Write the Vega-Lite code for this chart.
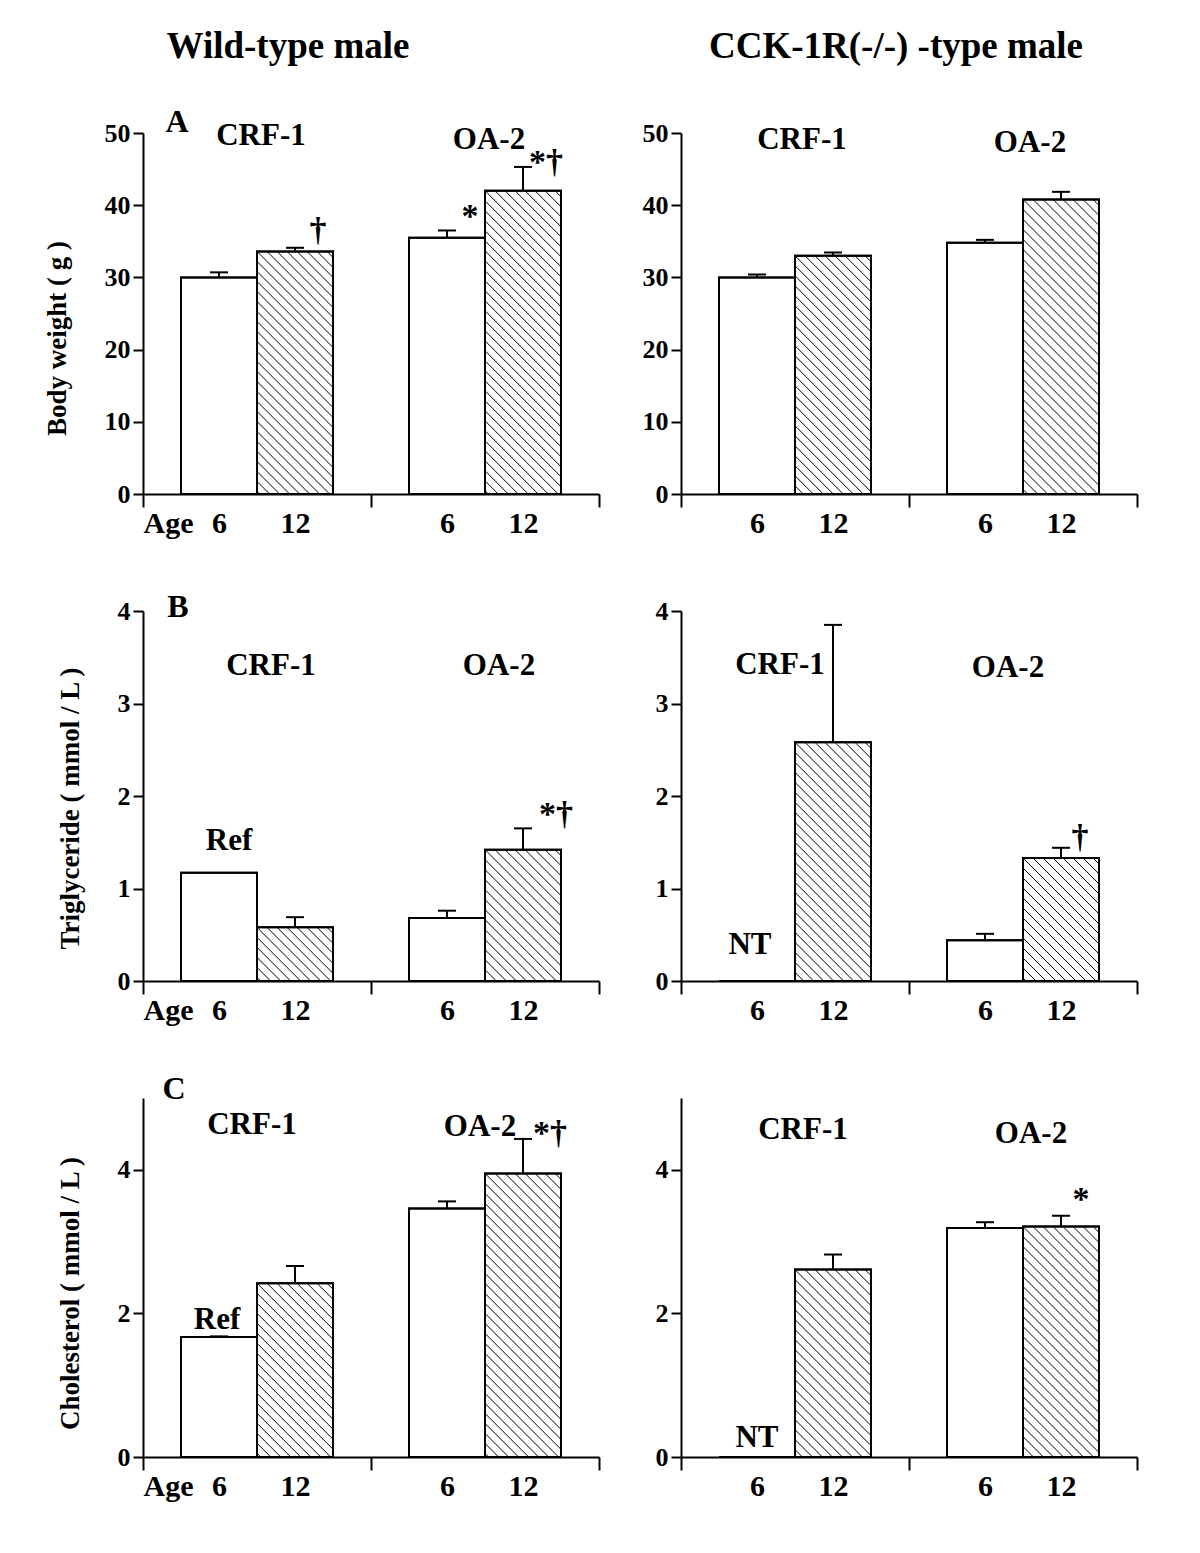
{
"$schema": "https://vega.github.io/schema/vega-lite/v6.json",
"autosize": "none",
"padding": {"left": 143, "top": 133, "right": 1057, "bottom": 1420},
"background": "white",
"datasets": {
"bars": [
{"panel":"A_wt","group":"CRF-1","age":6,"slot":"c6","value":30.0,"hi":30.7},
{"panel":"A_wt","group":"CRF-1","age":12,"slot":"c12","value":33.6,"hi":34.1},
{"panel":"A_wt","group":"OA-2","age":6,"slot":"o6","value":35.5,"hi":36.5},
{"panel":"A_wt","group":"OA-2","age":12,"slot":"o12","value":42.0,"hi":45.3},
{"panel":"A_ko","group":"CRF-1","age":6,"slot":"c6","value":30.0,"hi":30.4},
{"panel":"A_ko","group":"CRF-1","age":12,"slot":"c12","value":33.0,"hi":33.45},
{"panel":"A_ko","group":"OA-2","age":6,"slot":"o6","value":34.8,"hi":35.2},
{"panel":"A_ko","group":"OA-2","age":12,"slot":"o12","value":40.8,"hi":41.85},
{"panel":"B_wt","group":"CRF-1","age":6,"slot":"c6","value":1.17,"hi":1.17},
{"panel":"B_wt","group":"CRF-1","age":12,"slot":"c12","value":0.58,"hi":0.69},
{"panel":"B_wt","group":"OA-2","age":6,"slot":"o6","value":0.68,"hi":0.76},
{"panel":"B_wt","group":"OA-2","age":12,"slot":"o12","value":1.42,"hi":1.65},
{"panel":"B_ko","group":"CRF-1","age":6,"slot":"c6","value":0,"hi":0},
{"panel":"B_ko","group":"CRF-1","age":12,"slot":"c12","value":2.58,"hi":3.85},
{"panel":"B_ko","group":"OA-2","age":6,"slot":"o6","value":0.44,"hi":0.51},
{"panel":"B_ko","group":"OA-2","age":12,"slot":"o12","value":1.33,"hi":1.44},
{"panel":"C_wt","group":"CRF-1","age":6,"slot":"c6","value":1.67,"hi":1.68},
{"panel":"C_wt","group":"CRF-1","age":12,"slot":"c12","value":2.42,"hi":2.66},
{"panel":"C_wt","group":"OA-2","age":6,"slot":"o6","value":3.46,"hi":3.56},
{"panel":"C_wt","group":"OA-2","age":12,"slot":"o12","value":3.95,"hi":4.43},
{"panel":"C_ko","group":"CRF-1","age":6,"slot":"c6","value":0,"hi":0},
{"panel":"C_ko","group":"CRF-1","age":12,"slot":"c12","value":2.61,"hi":2.82},
{"panel":"C_ko","group":"OA-2","age":6,"slot":"o6","value":3.19,"hi":3.27},
{"panel":"C_ko","group":"OA-2","age":12,"slot":"o12","value":3.21,"hi":3.36}
],
"labels": [
{"panel":"A_wt","kind":"header","slot":"c12","value":60.4,"text":"Wild-type male"},
{"panel":"A_ko","kind":"header","slot":"gap","value":60.4,"text":"CCK-1R(-/-) -type male"},
{"panel":"A_wt","kind":"group","slot":"c12","value":49.6,"text":"CRF-1"},
{"panel":"A_wt","kind":"group","slot":"o12","value":49.0,"text":"OA-2"},
{"panel":"A_wt","kind":"sig","slot":"c12","value":36.4,"text":"†"},
{"panel":"A_wt","kind":"sig","slot":"o6","value":38.4,"text":"*"},
{"panel":"A_wt","kind":"sig","slot":"o12","value":45.9,"text":"*†"},
{"panel":"A_wt","kind":"letter","slot":"e0","value":51.5,"text":"A"},
{"panel":"A_ko","kind":"group","slot":"c12","value":49.0,"text":"CRF-1"},
{"panel":"A_ko","kind":"group","slot":"o12","value":48.6,"text":"OA-2"},
{"panel":"B_wt","kind":"group","slot":"c12","value":3.41,"text":"CRF-1"},
{"panel":"B_wt","kind":"group","slot":"o12","value":3.41,"text":"OA-2"},
{"panel":"B_wt","kind":"note","slot":"c6","value":1.51,"text":"Ref"},
{"panel":"B_wt","kind":"sig","slot":"o12","value":1.79,"text":"*†"},
{"panel":"B_wt","kind":"letter","slot":"e0","value":4.04,"text":"B"},
{"panel":"B_ko","kind":"group","slot":"c12","value":3.42,"text":"CRF-1"},
{"panel":"B_ko","kind":"group","slot":"o12","value":3.38,"text":"OA-2"},
{"panel":"B_ko","kind":"note","slot":"c6","value":0.39,"text":"NT"},
{"panel":"B_ko","kind":"sig","slot":"o12","value":1.55,"text":"†"},
{"panel":"C_wt","kind":"group","slot":"c12","value":4.63,"text":"CRF-1"},
{"panel":"C_wt","kind":"group","slot":"o12","value":4.59,"text":"OA-2"},
{"panel":"C_wt","kind":"note","slot":"c6","value":1.91,"text":"Ref"},
{"panel":"C_wt","kind":"sig","slot":"o12","value":4.5,"text":"*†"},
{"panel":"C_wt","kind":"letter","slot":"e0","value":5.12,"text":"C"},
{"panel":"C_ko","kind":"group","slot":"c12","value":4.55,"text":"CRF-1"},
{"panel":"C_ko","kind":"group","slot":"o12","value":4.5,"text":"OA-2"},
{"panel":"C_ko","kind":"note","slot":"c6","value":0.26,"text":"NT"},
{"panel":"C_ko","kind":"sig","slot":"o12","value":3.58,"text":"*"}
]
},
"columns": 2,
"spacing": {"row": 117, "column": 82},
"bounds": "flush",
"concat": [
{"width": 456, "height": 361,
 "layer": [
  {"data": {"name": "bars"}, "transform": [{"filter": "datum.panel=='A_wt'"}],
   "mark": {"type": "bar", "width": 76, "fill": "white", "stroke": "black", "strokeWidth": 2},
   "encoding": {
    "x": {"field": "slot", "type": "nominal", "title": null, "scale": {"type": "point", "domain": ["e0","c6","c12","gap","o6","o12","e6"], "padding": 0},
          "axis": {"labelAngle": 0, "labelOverlap": false, "labelExpr": "datum.value=='e0' ? 'Age' : (datum.value=='c6'||datum.value=='o6') ? '6' : (datum.value=='c12'||datum.value=='o12') ? '12' : ''",
                   "labelAlign": {"condition": {"test": "datum.value=='e0'", "value": "left"}, "value": "center"},
                   "tickOpacity": {"condition": {"test": "datum.value=='e0'||datum.value=='gap'||datum.value=='e6'", "value": 1}, "value": 0}}},
    "y": {"field": "value", "type": "quantitative", "title": "Body weight ( g )", "scale": {"domain": [0, 50], "nice": false}, "axis": {"values": [0,10,20,30,40,50], "format": "d", "titleY": 205}}}},
  {"data": {"name": "bars"}, "transform": [{"filter": "datum.panel=='A_wt' && datum.age==12"}],
   "mark": {"type": "point", "shape": "M32,0L38,6M22,0L38,16M12,0L38,26M2,0L38,36M-8,0L38,46M-18,0L38,56M-28,0L38,66M-38,0L38,76M-38,10L38,86M-38,20L38,96M-38,30L38,106M-38,40L38,116M-38,50L38,126M-38,60L38,136M-38,70L38,146M-38,80L38,156M-38,90L38,166M-38,100L38,176M-38,110L38,186M-38,120L38,196M-38,130L38,206M-38,140L38,216M-38,150L38,226M-38,160L38,236M-38,170L38,246M-38,180L38,256M-38,190L38,266M-38,200L38,276M-38,210L38,286M-38,220L38,296M-38,230L38,306M-38,240L38,316M-38,250L38,326M-38,260L38,336M-38,270L38,346M-38,280L38,356M-38,290L38,366M-38,300L38,376M-38,310L32,380M-38,320L22,380M-38,330L12,380M-38,340L2,380M-38,350L-8,380M-38,360L-18,380M-38,370L-28,380", "size": 4, "filled": false, "stroke": "black", "strokeWidth": 1, "opacity": 1, "clip": true},
   "encoding": {"x": {"field": "slot", "type": "nominal", "title": null}, "y": {"field": "value", "type": "quantitative", "title": "Body weight ( g )"}}},
  {"data": {"name": "bars"}, "transform": [{"filter": "datum.panel=='A_wt'"}],
   "mark": {"type": "bar", "width": 76, "fillOpacity": 0, "stroke": "black", "strokeWidth": 2},
   "encoding": {"x": {"field": "slot", "type": "nominal", "title": null}, "y": {"field": "value", "type": "quantitative", "title": "Body weight ( g )"}}},
  {"data": {"name": "bars"}, "transform": [{"filter": "datum.panel=='A_wt'"}],
   "mark": {"type": "rule", "stroke": "black", "strokeWidth": 2},
   "encoding": {"x": {"field": "slot", "type": "nominal", "title": null}, "y": {"field": "value", "type": "quantitative", "title": "Body weight ( g )"}, "y2": {"field": "hi"}}},
  {"data": {"name": "bars"}, "transform": [{"filter": "datum.panel=='A_wt'"}],
   "mark": {"type": "tick", "size": 18, "thickness": 2, "color": "black", "opacity": 1},
   "encoding": {"x": {"field": "slot", "type": "nominal", "title": null}, "y": {"field": "hi", "type": "quantitative", "title": "Body weight ( g )"}}},
  {"data": {"name": "labels"}, "transform": [{"filter": "datum.panel=='A_wt' && datum.kind=='group'"}],
   "mark": {"type": "text", "fontSize": 31, "dx": -34, "baseline": "middle", "align": "center"},
   "encoding": {"x": {"field": "slot", "type": "nominal", "title": null}, "y": {"field": "value", "type": "quantitative", "title": "Body weight ( g )"}, "text": {"field": "text"}}},
  {"data": {"name": "labels"}, "transform": [{"filter": "datum.panel=='A_wt' && datum.kind=='sig'"}],
   "mark": {"type": "text", "fontSize": 34, "dx": 23, "baseline": "middle", "align": "center"},
   "encoding": {"x": {"field": "slot", "type": "nominal", "title": null}, "y": {"field": "value", "type": "quantitative", "title": "Body weight ( g )"}, "text": {"field": "text"}}},
  {"data": {"name": "labels"}, "transform": [{"filter": "datum.panel=='A_wt' && datum.kind=='letter'"}],
   "mark": {"type": "text", "fontSize": 32, "dx": 34, "baseline": "middle", "align": "center"},
   "encoding": {"x": {"field": "slot", "type": "nominal", "title": null}, "y": {"field": "value", "type": "quantitative", "title": "Body weight ( g )"}, "text": {"field": "text"}}},
  {"data": {"name": "labels"}, "transform": [{"filter": "datum.panel=='A_wt' && datum.kind=='header'"}],
   "mark": {"type": "text", "fontSize": 37, "dx": -7, "baseline": "alphabetic", "align": "center"},
   "encoding": {"x": {"field": "slot", "type": "nominal", "title": null}, "y": {"field": "value", "type": "quantitative", "title": "Body weight ( g )"}, "text": {"field": "text"}}}
 ]},
{"width": 456, "height": 361,
 "layer": [
  {"data": {"name": "bars"}, "transform": [{"filter": "datum.panel=='A_ko'"}],
   "mark": {"type": "bar", "width": 76, "fill": "white", "stroke": "black", "strokeWidth": 2},
   "encoding": {
    "x": {"field": "slot", "type": "nominal", "title": null, "scale": {"type": "point", "domain": ["e0","c6","c12","gap","o6","o12","e6"], "padding": 0},
          "axis": {"labelAngle": 0, "labelOverlap": false, "labelExpr": "(datum.value=='c6'||datum.value=='o6') ? '6' : (datum.value=='c12'||datum.value=='o12') ? '12' : ''",
                   "tickOpacity": {"condition": {"test": "datum.value=='e0'||datum.value=='gap'||datum.value=='e6'", "value": 1}, "value": 0}}},
    "y": {"field": "value", "type": "quantitative", "title": null, "scale": {"domain": [0, 50], "nice": false}, "axis": {"values": [0,10,20,30,40,50], "format": "d"}}}},
  {"data": {"name": "bars"}, "transform": [{"filter": "datum.panel=='A_ko' && datum.age==12"}],
   "mark": {"type": "point", "shape": "M32,0L38,6M22,0L38,16M12,0L38,26M2,0L38,36M-8,0L38,46M-18,0L38,56M-28,0L38,66M-38,0L38,76M-38,10L38,86M-38,20L38,96M-38,30L38,106M-38,40L38,116M-38,50L38,126M-38,60L38,136M-38,70L38,146M-38,80L38,156M-38,90L38,166M-38,100L38,176M-38,110L38,186M-38,120L38,196M-38,130L38,206M-38,140L38,216M-38,150L38,226M-38,160L38,236M-38,170L38,246M-38,180L38,256M-38,190L38,266M-38,200L38,276M-38,210L38,286M-38,220L38,296M-38,230L38,306M-38,240L38,316M-38,250L38,326M-38,260L38,336M-38,270L38,346M-38,280L38,356M-38,290L38,366M-38,300L38,376M-38,310L32,380M-38,320L22,380M-38,330L12,380M-38,340L2,380M-38,350L-8,380M-38,360L-18,380M-38,370L-28,380", "size": 4, "filled": false, "stroke": "black", "strokeWidth": 1, "opacity": 1, "clip": true},
   "encoding": {"x": {"field": "slot", "type": "nominal", "title": null}, "y": {"field": "value", "type": "quantitative", "title": null}}},
  {"data": {"name": "bars"}, "transform": [{"filter": "datum.panel=='A_ko'"}],
   "mark": {"type": "bar", "width": 76, "fillOpacity": 0, "stroke": "black", "strokeWidth": 2},
   "encoding": {"x": {"field": "slot", "type": "nominal", "title": null}, "y": {"field": "value", "type": "quantitative", "title": null}}},
  {"data": {"name": "bars"}, "transform": [{"filter": "datum.panel=='A_ko'"}],
   "mark": {"type": "rule", "stroke": "black", "strokeWidth": 2},
   "encoding": {"x": {"field": "slot", "type": "nominal", "title": null}, "y": {"field": "value", "type": "quantitative", "title": null}, "y2": {"field": "hi"}}},
  {"data": {"name": "bars"}, "transform": [{"filter": "datum.panel=='A_ko'"}],
   "mark": {"type": "tick", "size": 18, "thickness": 2, "color": "black", "opacity": 1},
   "encoding": {"x": {"field": "slot", "type": "nominal", "title": null}, "y": {"field": "hi", "type": "quantitative", "title": null}}},
  {"data": {"name": "labels"}, "transform": [{"filter": "datum.panel=='A_ko' && datum.kind=='group'"}],
   "mark": {"type": "text", "fontSize": 31, "dx": -31, "baseline": "middle", "align": "center"},
   "encoding": {"x": {"field": "slot", "type": "nominal", "title": null}, "y": {"field": "value", "type": "quantitative", "title": null}, "text": {"field": "text"}}},
  {"data": {"name": "labels"}, "transform": [{"filter": "datum.panel=='A_ko' && datum.kind=='header'"}],
   "mark": {"type": "text", "fontSize": 37, "dx": -13, "baseline": "alphabetic", "align": "center"},
   "encoding": {"x": {"field": "slot", "type": "nominal", "title": null}, "y": {"field": "value", "type": "quantitative", "title": null}, "text": {"field": "text"}}}
 ]},
{"width": 456, "height": 370,
 "layer": [
  {"data": {"name": "bars"}, "transform": [{"filter": "datum.panel=='B_wt'"}],
   "mark": {"type": "bar", "width": 76, "fill": "white", "stroke": "black", "strokeWidth": 2},
   "encoding": {
    "x": {"field": "slot", "type": "nominal", "title": null, "scale": {"type": "point", "domain": ["e0","c6","c12","gap","o6","o12","e6"], "padding": 0},
          "axis": {"labelAngle": 0, "labelOverlap": false, "labelExpr": "datum.value=='e0' ? 'Age' : (datum.value=='c6'||datum.value=='o6') ? '6' : (datum.value=='c12'||datum.value=='o12') ? '12' : ''",
                   "labelAlign": {"condition": {"test": "datum.value=='e0'", "value": "left"}, "value": "center"},
                   "tickOpacity": {"condition": {"test": "datum.value=='e0'||datum.value=='gap'||datum.value=='e6'", "value": 1}, "value": 0}}},
    "y": {"field": "value", "type": "quantitative", "title": "Triglyceride ( mmol / L )", "scale": {"domain": [0, 4], "nice": false}, "axis": {"values": [0,1,2,3,4], "format": "d", "titleY": 197}}}},
  {"data": {"name": "bars"}, "transform": [{"filter": "datum.panel=='B_wt' && datum.age==12"}],
   "mark": {"type": "point", "shape": "M32,0L38,6M22,0L38,16M12,0L38,26M2,0L38,36M-8,0L38,46M-18,0L38,56M-28,0L38,66M-38,0L38,76M-38,10L38,86M-38,20L38,96M-38,30L38,106M-38,40L38,116M-38,50L38,126M-38,60L38,136M-38,70L38,146M-38,80L38,156M-38,90L38,166M-38,100L38,176M-38,110L38,186M-38,120L38,196M-38,130L38,206M-38,140L38,216M-38,150L38,226M-38,160L38,236M-38,170L38,246M-38,180L38,256M-38,190L38,266M-38,200L38,276M-38,210L38,286M-38,220L38,296M-38,230L38,306M-38,240L38,316M-38,250L38,326M-38,260L38,336M-38,270L38,346M-38,280L38,356M-38,290L38,366M-38,300L38,376M-38,310L32,380M-38,320L22,380M-38,330L12,380M-38,340L2,380M-38,350L-8,380M-38,360L-18,380M-38,370L-28,380", "size": 4, "filled": false, "stroke": "black", "strokeWidth": 1, "opacity": 1, "clip": true},
   "encoding": {"x": {"field": "slot", "type": "nominal", "title": null}, "y": {"field": "value", "type": "quantitative", "title": "Triglyceride ( mmol / L )"}}},
  {"data": {"name": "bars"}, "transform": [{"filter": "datum.panel=='B_wt'"}],
   "mark": {"type": "bar", "width": 76, "fillOpacity": 0, "stroke": "black", "strokeWidth": 2},
   "encoding": {"x": {"field": "slot", "type": "nominal", "title": null}, "y": {"field": "value", "type": "quantitative", "title": "Triglyceride ( mmol / L )"}}},
  {"data": {"name": "bars"}, "transform": [{"filter": "datum.panel=='B_wt'"}],
   "mark": {"type": "rule", "stroke": "black", "strokeWidth": 2},
   "encoding": {"x": {"field": "slot", "type": "nominal", "title": null}, "y": {"field": "value", "type": "quantitative", "title": "Triglyceride ( mmol / L )"}, "y2": {"field": "hi"}}},
  {"data": {"name": "bars"}, "transform": [{"filter": "datum.panel=='B_wt' && datum.hi > datum.value"}],
   "mark": {"type": "tick", "size": 18, "thickness": 2, "color": "black", "opacity": 1},
   "encoding": {"x": {"field": "slot", "type": "nominal", "title": null}, "y": {"field": "hi", "type": "quantitative", "title": "Triglyceride ( mmol / L )"}}},
  {"data": {"name": "labels"}, "transform": [{"filter": "datum.panel=='B_wt' && datum.kind=='group'"}],
   "mark": {"type": "text", "fontSize": 31, "dx": -24, "baseline": "middle", "align": "center"},
   "encoding": {"x": {"field": "slot", "type": "nominal", "title": null}, "y": {"field": "value", "type": "quantitative", "title": "Triglyceride ( mmol / L )"}, "text": {"field": "text"}}},
  {"data": {"name": "labels"}, "transform": [{"filter": "datum.panel=='B_wt' && datum.kind=='sig'"}],
   "mark": {"type": "text", "fontSize": 34, "dx": 33, "baseline": "middle", "align": "center"},
   "encoding": {"x": {"field": "slot", "type": "nominal", "title": null}, "y": {"field": "value", "type": "quantitative", "title": "Triglyceride ( mmol / L )"}, "text": {"field": "text"}}},
  {"data": {"name": "labels"}, "transform": [{"filter": "datum.panel=='B_wt' && datum.kind=='note'"}],
   "mark": {"type": "text", "fontSize": 31, "dx": 10, "baseline": "middle", "align": "center"},
   "encoding": {"x": {"field": "slot", "type": "nominal", "title": null}, "y": {"field": "value", "type": "quantitative", "title": "Triglyceride ( mmol / L )"}, "text": {"field": "text"}}},
  {"data": {"name": "labels"}, "transform": [{"filter": "datum.panel=='B_wt' && datum.kind=='letter'"}],
   "mark": {"type": "text", "fontSize": 32, "dx": 35, "baseline": "middle", "align": "center"},
   "encoding": {"x": {"field": "slot", "type": "nominal", "title": null}, "y": {"field": "value", "type": "quantitative", "title": "Triglyceride ( mmol / L )"}, "text": {"field": "text"}}}
 ]},
{"width": 456, "height": 370,
 "layer": [
  {"data": {"name": "bars"}, "transform": [{"filter": "datum.panel=='B_ko'"}],
   "mark": {"type": "bar", "width": 76, "fill": "white", "stroke": "black", "strokeWidth": 2},
   "encoding": {
    "x": {"field": "slot", "type": "nominal", "title": null, "scale": {"type": "point", "domain": ["e0","c6","c12","gap","o6","o12","e6"], "padding": 0},
          "axis": {"labelAngle": 0, "labelOverlap": false, "labelExpr": "(datum.value=='c6'||datum.value=='o6') ? '6' : (datum.value=='c12'||datum.value=='o12') ? '12' : ''",
                   "tickOpacity": {"condition": {"test": "datum.value=='e0'||datum.value=='gap'||datum.value=='e6'", "value": 1}, "value": 0}}},
    "y": {"field": "value", "type": "quantitative", "title": null, "scale": {"domain": [0, 4], "nice": false}, "axis": {"values": [0,1,2,3,4], "format": "d"}}}},
  {"data": {"name": "bars"}, "transform": [{"filter": "datum.panel=='B_ko' && datum.age==12"}],
   "mark": {"type": "point", "shape": "M32,0L38,6M22,0L38,16M12,0L38,26M2,0L38,36M-8,0L38,46M-18,0L38,56M-28,0L38,66M-38,0L38,76M-38,10L38,86M-38,20L38,96M-38,30L38,106M-38,40L38,116M-38,50L38,126M-38,60L38,136M-38,70L38,146M-38,80L38,156M-38,90L38,166M-38,100L38,176M-38,110L38,186M-38,120L38,196M-38,130L38,206M-38,140L38,216M-38,150L38,226M-38,160L38,236M-38,170L38,246M-38,180L38,256M-38,190L38,266M-38,200L38,276M-38,210L38,286M-38,220L38,296M-38,230L38,306M-38,240L38,316M-38,250L38,326M-38,260L38,336M-38,270L38,346M-38,280L38,356M-38,290L38,366M-38,300L38,376M-38,310L32,380M-38,320L22,380M-38,330L12,380M-38,340L2,380M-38,350L-8,380M-38,360L-18,380M-38,370L-28,380", "size": 4, "filled": false, "stroke": "black", "strokeWidth": 1, "opacity": 1, "clip": true},
   "encoding": {"x": {"field": "slot", "type": "nominal", "title": null}, "y": {"field": "value", "type": "quantitative", "title": null}}},
  {"data": {"name": "bars"}, "transform": [{"filter": "datum.panel=='B_ko'"}],
   "mark": {"type": "bar", "width": 76, "fillOpacity": 0, "stroke": "black", "strokeWidth": 2},
   "encoding": {"x": {"field": "slot", "type": "nominal", "title": null}, "y": {"field": "value", "type": "quantitative", "title": null}}},
  {"data": {"name": "bars"}, "transform": [{"filter": "datum.panel=='B_ko'"}],
   "mark": {"type": "rule", "stroke": "black", "strokeWidth": 2},
   "encoding": {"x": {"field": "slot", "type": "nominal", "title": null}, "y": {"field": "value", "type": "quantitative", "title": null}, "y2": {"field": "hi"}}},
  {"data": {"name": "bars"}, "transform": [{"filter": "datum.panel=='B_ko' && datum.hi > datum.value"}],
   "mark": {"type": "tick", "size": 18, "thickness": 2, "color": "black", "opacity": 1},
   "encoding": {"x": {"field": "slot", "type": "nominal", "title": null}, "y": {"field": "hi", "type": "quantitative", "title": null}}},
  {"data": {"name": "labels"}, "transform": [{"filter": "datum.panel=='B_ko' && datum.kind=='group'"}],
   "mark": {"type": "text", "fontSize": 31, "dx": -53, "baseline": "middle", "align": "center"},
   "encoding": {"x": {"field": "slot", "type": "nominal", "title": null}, "y": {"field": "value", "type": "quantitative", "title": null}, "text": {"field": "text"}}},
  {"data": {"name": "labels"}, "transform": [{"filter": "datum.panel=='B_ko' && datum.kind=='sig'"}],
   "mark": {"type": "text", "fontSize": 34, "dx": 19, "baseline": "middle", "align": "center"},
   "encoding": {"x": {"field": "slot", "type": "nominal", "title": null}, "y": {"field": "value", "type": "quantitative", "title": null}, "text": {"field": "text"}}},
  {"data": {"name": "labels"}, "transform": [{"filter": "datum.panel=='B_ko' && datum.kind=='note'"}],
   "mark": {"type": "text", "fontSize": 31, "dx": -7, "baseline": "middle", "align": "center"},
   "encoding": {"x": {"field": "slot", "type": "nominal", "title": null}, "y": {"field": "value", "type": "quantitative", "title": null}, "text": {"field": "text"}}}
 ]},
{"width": 456, "height": 359,
 "layer": [
  {"data": {"name": "bars"}, "transform": [{"filter": "datum.panel=='C_wt'"}],
   "mark": {"type": "bar", "width": 76, "fill": "white", "stroke": "black", "strokeWidth": 2},
   "encoding": {
    "x": {"field": "slot", "type": "nominal", "title": null, "scale": {"type": "point", "domain": ["e0","c6","c12","gap","o6","o12","e6"], "padding": 0},
          "axis": {"labelAngle": 0, "labelOverlap": false, "labelExpr": "datum.value=='e0' ? 'Age' : (datum.value=='c6'||datum.value=='o6') ? '6' : (datum.value=='c12'||datum.value=='o12') ? '12' : ''",
                   "labelAlign": {"condition": {"test": "datum.value=='e0'", "value": "left"}, "value": "center"},
                   "tickOpacity": {"condition": {"test": "datum.value=='e0'||datum.value=='gap'||datum.value=='e6'", "value": 1}, "value": 0}}},
    "y": {"field": "value", "type": "quantitative", "title": "Cholesterol ( mmol / L )", "scale": {"domain": [0, 5], "nice": false}, "axis": {"values": [0,2,4], "format": "d", "titleY": 195}}}},
  {"data": {"name": "bars"}, "transform": [{"filter": "datum.panel=='C_wt' && datum.age==12"}],
   "mark": {"type": "point", "shape": "M32,0L38,6M22,0L38,16M12,0L38,26M2,0L38,36M-8,0L38,46M-18,0L38,56M-28,0L38,66M-38,0L38,76M-38,10L38,86M-38,20L38,96M-38,30L38,106M-38,40L38,116M-38,50L38,126M-38,60L38,136M-38,70L38,146M-38,80L38,156M-38,90L38,166M-38,100L38,176M-38,110L38,186M-38,120L38,196M-38,130L38,206M-38,140L38,216M-38,150L38,226M-38,160L38,236M-38,170L38,246M-38,180L38,256M-38,190L38,266M-38,200L38,276M-38,210L38,286M-38,220L38,296M-38,230L38,306M-38,240L38,316M-38,250L38,326M-38,260L38,336M-38,270L38,346M-38,280L38,356M-38,290L38,366M-38,300L38,376M-38,310L32,380M-38,320L22,380M-38,330L12,380M-38,340L2,380M-38,350L-8,380M-38,360L-18,380M-38,370L-28,380", "size": 4, "filled": false, "stroke": "black", "strokeWidth": 1, "opacity": 1, "clip": true},
   "encoding": {"x": {"field": "slot", "type": "nominal", "title": null}, "y": {"field": "value", "type": "quantitative", "title": "Cholesterol ( mmol / L )"}}},
  {"data": {"name": "bars"}, "transform": [{"filter": "datum.panel=='C_wt'"}],
   "mark": {"type": "bar", "width": 76, "fillOpacity": 0, "stroke": "black", "strokeWidth": 2},
   "encoding": {"x": {"field": "slot", "type": "nominal", "title": null}, "y": {"field": "value", "type": "quantitative", "title": "Cholesterol ( mmol / L )"}}},
  {"data": {"name": "bars"}, "transform": [{"filter": "datum.panel=='C_wt'"}],
   "mark": {"type": "rule", "stroke": "black", "strokeWidth": 2},
   "encoding": {"x": {"field": "slot", "type": "nominal", "title": null}, "y": {"field": "value", "type": "quantitative", "title": "Cholesterol ( mmol / L )"}, "y2": {"field": "hi"}}},
  {"data": {"name": "bars"}, "transform": [{"filter": "datum.panel=='C_wt' && datum.hi > datum.value"}],
   "mark": {"type": "tick", "size": 18, "thickness": 2, "color": "black", "opacity": 1},
   "encoding": {"x": {"field": "slot", "type": "nominal", "title": null}, "y": {"field": "hi", "type": "quantitative", "title": "Cholesterol ( mmol / L )"}}},
  {"data": {"name": "labels"}, "transform": [{"filter": "datum.panel=='C_wt' && datum.kind=='group'"}],
   "mark": {"type": "text", "fontSize": 31, "dx": -43, "baseline": "middle", "align": "center"},
   "encoding": {"x": {"field": "slot", "type": "nominal", "title": null}, "y": {"field": "value", "type": "quantitative", "title": "Cholesterol ( mmol / L )"}, "text": {"field": "text"}}},
  {"data": {"name": "labels"}, "transform": [{"filter": "datum.panel=='C_wt' && datum.kind=='sig'"}],
   "mark": {"type": "text", "fontSize": 34, "dx": 27, "baseline": "middle", "align": "center"},
   "encoding": {"x": {"field": "slot", "type": "nominal", "title": null}, "y": {"field": "value", "type": "quantitative", "title": "Cholesterol ( mmol / L )"}, "text": {"field": "text"}}},
  {"data": {"name": "labels"}, "transform": [{"filter": "datum.panel=='C_wt' && datum.kind=='note'"}],
   "mark": {"type": "text", "fontSize": 31, "dx": -2, "baseline": "middle", "align": "center"},
   "encoding": {"x": {"field": "slot", "type": "nominal", "title": null}, "y": {"field": "value", "type": "quantitative", "title": "Cholesterol ( mmol / L )"}, "text": {"field": "text"}}},
  {"data": {"name": "labels"}, "transform": [{"filter": "datum.panel=='C_wt' && datum.kind=='letter'"}],
   "mark": {"type": "text", "fontSize": 32, "dx": 31, "baseline": "middle", "align": "center"},
   "encoding": {"x": {"field": "slot", "type": "nominal", "title": null}, "y": {"field": "value", "type": "quantitative", "title": "Cholesterol ( mmol / L )"}, "text": {"field": "text"}}}
 ]},
{"width": 456, "height": 359,
 "layer": [
  {"data": {"name": "bars"}, "transform": [{"filter": "datum.panel=='C_ko'"}],
   "mark": {"type": "bar", "width": 76, "fill": "white", "stroke": "black", "strokeWidth": 2},
   "encoding": {
    "x": {"field": "slot", "type": "nominal", "title": null, "scale": {"type": "point", "domain": ["e0","c6","c12","gap","o6","o12","e6"], "padding": 0},
          "axis": {"labelAngle": 0, "labelOverlap": false, "labelExpr": "(datum.value=='c6'||datum.value=='o6') ? '6' : (datum.value=='c12'||datum.value=='o12') ? '12' : ''",
                   "tickOpacity": {"condition": {"test": "datum.value=='e0'||datum.value=='gap'||datum.value=='e6'", "value": 1}, "value": 0}}},
    "y": {"field": "value", "type": "quantitative", "title": null, "scale": {"domain": [0, 5], "nice": false}, "axis": {"values": [0,2,4], "format": "d"}}}},
  {"data": {"name": "bars"}, "transform": [{"filter": "datum.panel=='C_ko' && datum.age==12"}],
   "mark": {"type": "point", "shape": "M32,0L38,6M22,0L38,16M12,0L38,26M2,0L38,36M-8,0L38,46M-18,0L38,56M-28,0L38,66M-38,0L38,76M-38,10L38,86M-38,20L38,96M-38,30L38,106M-38,40L38,116M-38,50L38,126M-38,60L38,136M-38,70L38,146M-38,80L38,156M-38,90L38,166M-38,100L38,176M-38,110L38,186M-38,120L38,196M-38,130L38,206M-38,140L38,216M-38,150L38,226M-38,160L38,236M-38,170L38,246M-38,180L38,256M-38,190L38,266M-38,200L38,276M-38,210L38,286M-38,220L38,296M-38,230L38,306M-38,240L38,316M-38,250L38,326M-38,260L38,336M-38,270L38,346M-38,280L38,356M-38,290L38,366M-38,300L38,376M-38,310L32,380M-38,320L22,380M-38,330L12,380M-38,340L2,380M-38,350L-8,380M-38,360L-18,380M-38,370L-28,380", "size": 4, "filled": false, "stroke": "black", "strokeWidth": 1, "opacity": 1, "clip": true},
   "encoding": {"x": {"field": "slot", "type": "nominal", "title": null}, "y": {"field": "value", "type": "quantitative", "title": null}}},
  {"data": {"name": "bars"}, "transform": [{"filter": "datum.panel=='C_ko'"}],
   "mark": {"type": "bar", "width": 76, "fillOpacity": 0, "stroke": "black", "strokeWidth": 2},
   "encoding": {"x": {"field": "slot", "type": "nominal", "title": null}, "y": {"field": "value", "type": "quantitative", "title": null}}},
  {"data": {"name": "bars"}, "transform": [{"filter": "datum.panel=='C_ko'"}],
   "mark": {"type": "rule", "stroke": "black", "strokeWidth": 2},
   "encoding": {"x": {"field": "slot", "type": "nominal", "title": null}, "y": {"field": "value", "type": "quantitative", "title": null}, "y2": {"field": "hi"}}},
  {"data": {"name": "bars"}, "transform": [{"filter": "datum.panel=='C_ko' && datum.hi > datum.value"}],
   "mark": {"type": "tick", "size": 18, "thickness": 2, "color": "black", "opacity": 1},
   "encoding": {"x": {"field": "slot", "type": "nominal", "title": null}, "y": {"field": "hi", "type": "quantitative", "title": null}}},
  {"data": {"name": "labels"}, "transform": [{"filter": "datum.panel=='C_ko' && datum.kind=='group'"}],
   "mark": {"type": "text", "fontSize": 31, "dx": -30, "baseline": "middle", "align": "center"},
   "encoding": {"x": {"field": "slot", "type": "nominal", "title": null}, "y": {"field": "value", "type": "quantitative", "title": null}, "text": {"field": "text"}}},
  {"data": {"name": "labels"}, "transform": [{"filter": "datum.panel=='C_ko' && datum.kind=='sig'"}],
   "mark": {"type": "text", "fontSize": 34, "dx": 20, "baseline": "middle", "align": "center"},
   "encoding": {"x": {"field": "slot", "type": "nominal", "title": null}, "y": {"field": "value", "type": "quantitative", "title": null}, "text": {"field": "text"}}},
  {"data": {"name": "labels"}, "transform": [{"filter": "datum.panel=='C_ko' && datum.kind=='note'"}],
   "mark": {"type": "text", "fontSize": 31, "dx": 0, "baseline": "middle", "align": "center"},
   "encoding": {"x": {"field": "slot", "type": "nominal", "title": null}, "y": {"field": "value", "type": "quantitative", "title": null}, "text": {"field": "text"}}}
 ]}
],
"config": {
 "view": {"stroke": null},
 "font": "Liberation Serif",
 "axis": {"domainColor": "black", "domainWidth": 2, "tickColor": "black", "tickWidth": 2, "labelColor": "black", "labelFont": "Liberation Serif", "labelFontWeight": "bold", "titleFont": "Liberation Serif", "titleFontWeight": "bold", "titleColor": "black", "grid": false},
 "axisX": {"labelFontSize": 30, "tickSize": 13, "labelPadding": 1},
 "axisY": {"labelFontSize": 26, "tickSize": 10, "labelPadding": 3, "titleFontSize": 27, "titlePadding": 33},
 "text": {"font": "Liberation Serif", "fontWeight": "bold", "color": "black"}
}
}
